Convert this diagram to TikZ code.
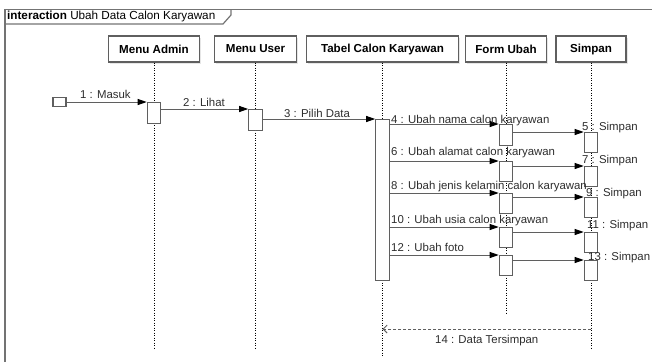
\documentclass[tikz,border=0pt]{standalone}
\usepackage{fontspec}
\setmainfont{Liberation Sans}
\definecolor{lineGray}{RGB}{95,95,95}
\definecolor{frameGray}{RGB}{115,115,115}
\definecolor{textGray}{RGB}{45,45,45}
\usetikzlibrary{arrows.meta,shadows}

\begin{document}
\begin{tikzpicture}[
  x=1pt, y=-1pt,
  font=\fontsize{11.4}{14}\selectfont,
  head/.style={
    draw=lineGray, fill=white, line width=1.2pt, minimum height=26pt,
    inner sep=0pt, font=\fontsize{11.6}{14}\selectfont\bfseries,
    drop shadow={shadow xshift=1.5pt, shadow yshift=-1.5pt, opacity=0.2}
  },
  act/.style={
    draw=lineGray, fill=white, line width=1.1pt, anchor=north,
    minimum width=13.5pt, minimum height=20pt, inner sep=0pt
  },
  life/.style={draw=black, line width=0.9pt, dash pattern=on 1.2pt off 1.3pt},
  msg/.style={-{Triangle[length=9pt,width=6pt,black]}, draw=lineGray, line width=0.9pt},
  ret/.style={-{Straight Barb[length=4pt,width=8pt]}, draw=lineGray, line width=0.9pt, dash pattern=on 3pt off 2pt},
  lbl/.style={anchor=mid west, inner sep=0pt, text=textGray}
]
  \useasboundingbox (0,0) rectangle (652,362);

  % frame
  \draw[frameGray, line width=1.6pt] (5,362) -- (5,9.5) -- (652,9.5);
  \draw[frameGray, line width=1.2pt] (5,24) -- (223,24) -- (231,15) -- (231,9.5);
  \node[anchor=mid west, inner sep=0pt, font=\fontsize{11.7}{14}\selectfont] (title) at (7,17) {\textbf{interaction} Ubah Data Calon Karyawan};

  % lifelines
  \node[head, minimum width=91pt] (A) at (154,49) {Menu Admin};
  \node[head, minimum width=82pt] (B) at (255.5,49) {Menu User};
  \node[head, minimum width=152pt] (C) at (382.5,49) {Tabel Calon Karyawan};
  \node[head, minimum width=81pt] (D) at (506,49) {Form Ubah};
  \node[head, minimum width=70pt] (E) at (591,49) {Simpan};
  \coordinate (Aend) at (154,348);
  \coordinate (Bend) at (255.5,348);
  \coordinate (Cend) at (382.5,357);
  \coordinate (Dend) at (506,313);
  \coordinate (Eend) at (591,350);
  \draw[life] (A.south) -- (Aend);
  \draw[life] (B.south) -- (Bend);
  \draw[life] (C.south) -- (Cend);
  \draw[life] (D.south) -- (Dend);
  \draw[life] (E.south) -- (Eend);

  % activations
  \node[draw=lineGray, fill=white, line width=1.1pt, minimum width=13pt, minimum height=9pt, inner sep=0pt] (S) at (59.5,102) {};
  \node[act, minimum height=21pt] (A1) at (154,102) {};
  \node[act, minimum height=21pt] (B1) at (255.5,109) {};
  \node[act, minimum height=161pt] (C1) at (382.5,119) {};
  \node[act, minimum height=21pt] (D1) at (506,124) {};
  \node[act] (E1) at (591,132) {};
  \node[act] (D2) at (506,161) {};
  \node[act] (E2) at (591,166) {};
  \node[act] (D3) at (506,193) {};
  \node[act] (E3) at (591,197) {};
  \node[act] (D4) at (506,227) {};
  \node[act] (E4) at (591,232) {};
  \node[act] (D5) at (506,255) {};
  \node[act] (E5) at (591,260) {};

  % messages
  \draw[msg] (S.east) -- (A1.north west);
  \draw[msg] (A1.east |- B1.north) -- (B1.north west);
  \draw[msg] (B1.east |- C1.north) -- (C1.north west);
  \draw[msg] (C1.east |- D1.north) -- (D1.north west);
  \draw[msg] (D1.east |- E1.north) -- (E1.north west);
  \draw[msg] (C1.east |- D2.north) -- (D2.north west);
  \draw[msg] (D2.east |- E2.north) -- (E2.north west);
  \draw[msg] (C1.east |- D3.north) -- (D3.north west);
  \draw[msg] (D3.east |- E3.north) -- (E3.north west);
  \draw[msg] (C1.east |- D4.north) -- (D4.north west);
  \draw[msg] (D4.east |- E4.north) -- (E4.north west);
  \draw[msg] (C1.east |- D5.north) -- (D5.north west);
  \draw[msg] (D5.east |- E5.north) -- (E5.north west);
  \coordinate (R) at (591,329);
  \draw[ret] (R) -- (R -| C) node[midway, below=5.5pt, inner sep=0pt, text=textGray] (m14) {14 : Data Tersimpan};

  % labels
  \node[lbl] (m1) at (80,96) {1 : Masuk};
  \node[lbl] (m2) at (183,104) {2 : Lihat};
  \node[lbl] (m3) at (284,115) {3 : Pilih Data};
  \node[lbl] (m4) at (391,121) {4 : Ubah nama calon karyawan};
  \node[lbl] (m5) at (582,128) {5 : Simpan};
  \node[lbl] (m6) at (391,153) {6 : Ubah alamat calon karyawan};
  \node[lbl] (m7) at (582,161) {7 : Simpan};
  \node[lbl] (m8) at (391,187) {8 : Ubah jenis kelamin calon karyawan};
  \node[lbl] (m9) at (586,194) {9 : Simpan};
  \node[lbl] (m10) at (391,221) {10 : Ubah usia calon karyawan};
  \node[lbl] (m11) at (587,226) {11 : Simpan};
  \node[lbl] (m12) at (391,249) {12 : Ubah foto};
  \node[lbl] (m13) at (588,258) {13 : Simpan};
\end{tikzpicture}
\end{document}
